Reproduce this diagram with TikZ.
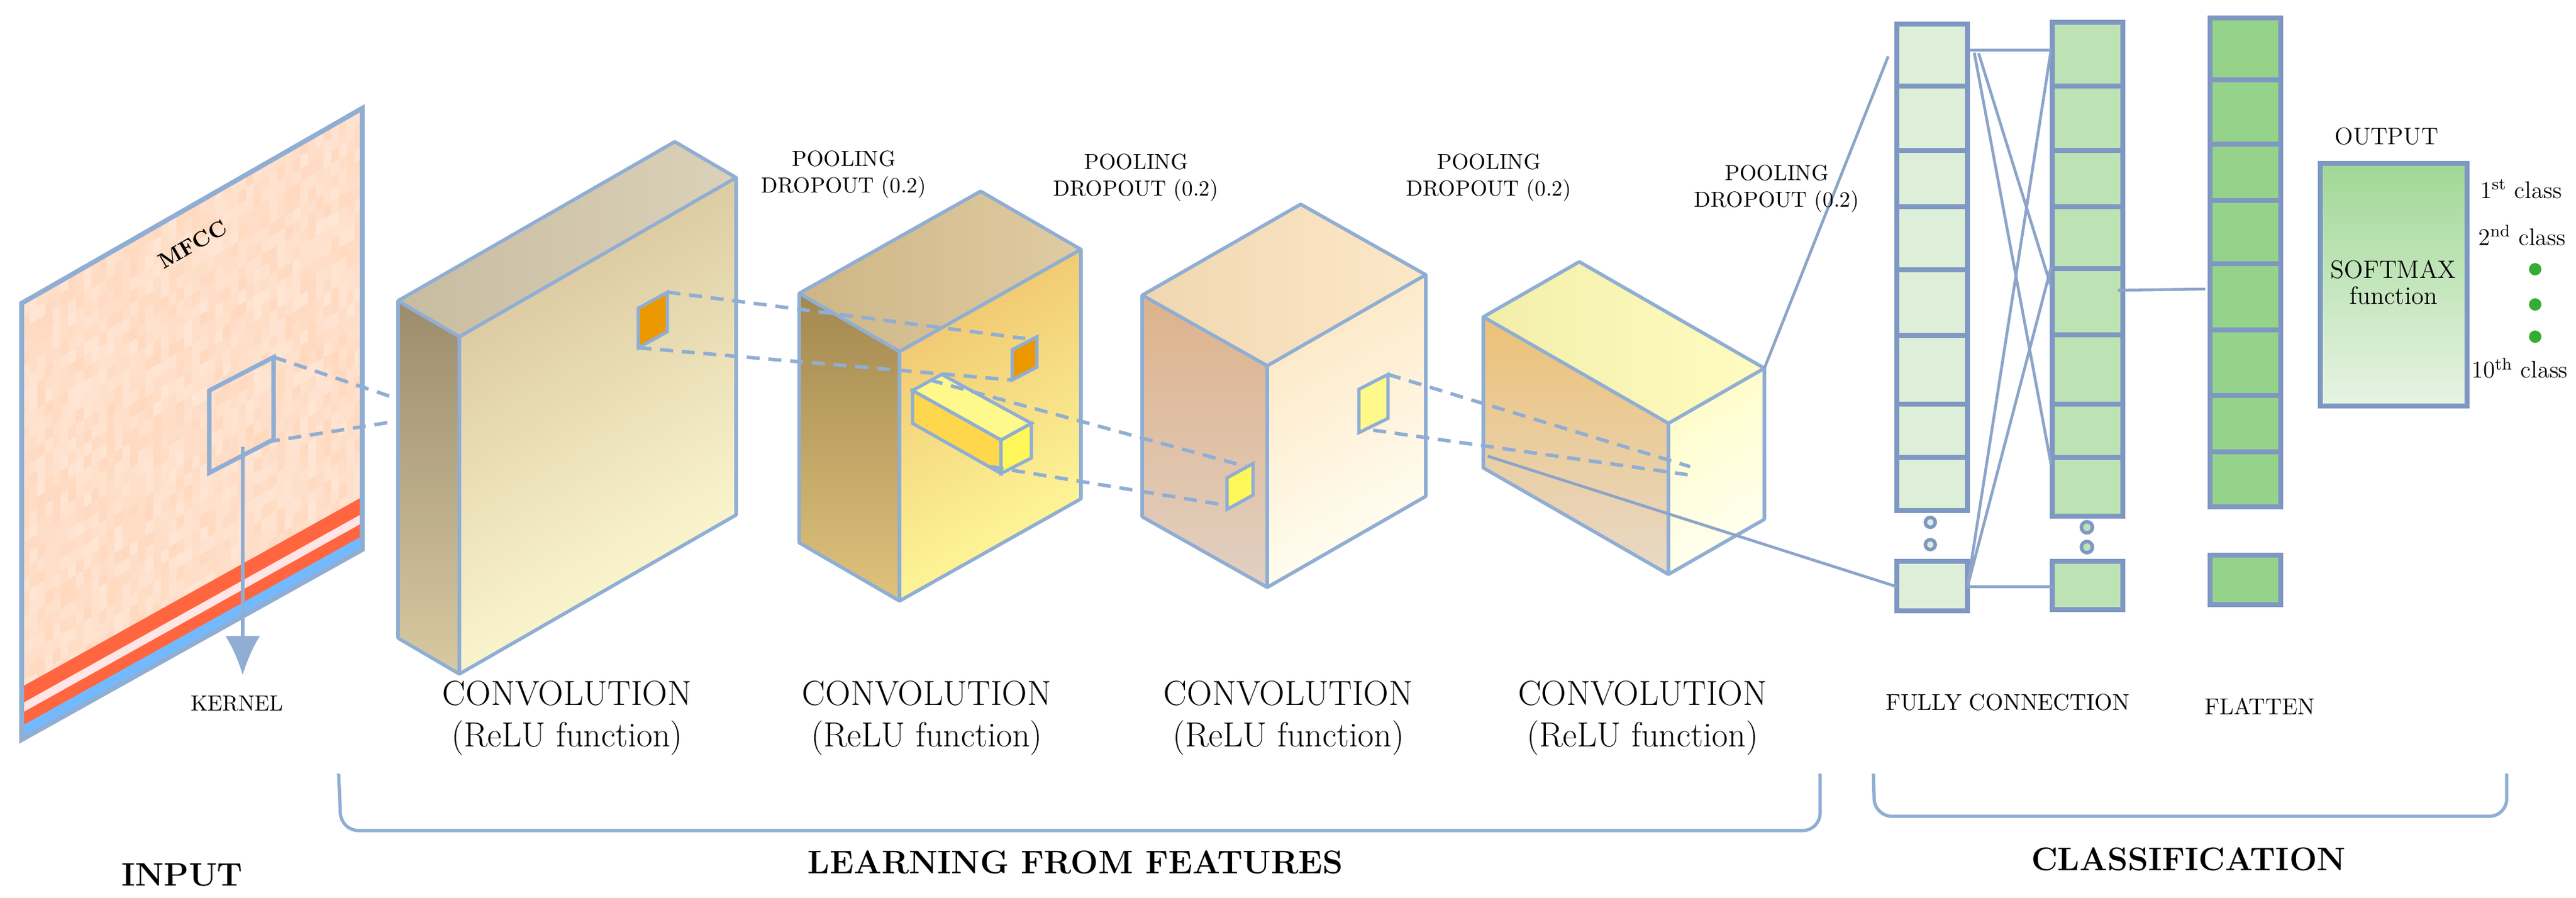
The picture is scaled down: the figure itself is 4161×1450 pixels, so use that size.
\documentclass[tikz,border=0pt]{standalone}
\usetikzlibrary{calc,arrows.meta}
\begin{document}
\begin{tikzpicture}[x=0.01cm,y=-0.01cm,
  ln/.style={draw=lc,line width=1.3pt},
  dsh/.style={draw=ec,line width=1.6pt,dash pattern=on 6pt off 4pt},
  fc1/.style={draw=fe,line width=2.4pt,fill=g1},
  fc2/.style={draw=fe,line width=2.4pt,fill=g2},
  fc3/.style={draw=fe,line width=2.4pt,fill=g3},
  lbl/.style={font=\fontsize{10}{12}\selectfont,align=center},
  big/.style={font=\fontsize{16}{19}\selectfont,align=center},
  bold/.style={font=\fontsize{15}{18}\selectfont\bfseries}]
\definecolor{ec}{HTML}{90AED3}
\definecolor{lc}{HTML}{8CA4C8}
\definecolor{fe}{HTML}{7F98C3}
\definecolor{g1}{HTML}{DDEFD8}\definecolor{g2}{HTML}{BDE2B3}\definecolor{g3}{HTML}{96D38A}
\definecolor{aL1}{HTML}{9C8C6C}\definecolor{aL2}{HTML}{D8C9A2}\definecolor{aT}{HTML}{D2C6A8}\definecolor{aF1}{HTML}{D8C49A}\definecolor{aF2}{HTML}{FFFCD6}
\definecolor{bL1}{HTML}{A38850}\definecolor{bL2}{HTML}{DEC27C}\definecolor{bT}{HTML}{D8BF8C}\definecolor{bF1}{HTML}{EFC46E}\definecolor{bF2}{HTML}{FFFB9C}
\definecolor{cL1}{HTML}{DDB28C}\definecolor{cL2}{HTML}{E2D0C2}\definecolor{cT}{HTML}{FCE2BA}\definecolor{cF1}{HTML}{FDE7C4}\definecolor{cF2}{HTML}{FFFFF4}
\definecolor{dL1}{HTML}{ECC177}\definecolor{dL2}{HTML}{E8D9C8}\definecolor{dT}{HTML}{FFFBB2}\definecolor{dF1}{HTML}{FFFDC8}\definecolor{dF2}{HTML}{FFFFF2}
\useasboundingbox (0,0) rectangle (4161,1450);
\newcommand\blk[8]{%
 \coordinate (#8A) at (#1,#2);
 \coordinate (#8B) at ($(#8A)+(#3,#4)$);
 \coordinate (#8P) at ($(#8A)+(#5,#6)$);
 \coordinate (#8C) at ($(#8B)+(#5,#6)$);
 \coordinate (#8Ab) at ($(#8A)+(0,#7)$);
 \coordinate (#8Bb) at ($(#8B)+(0,#7)$);
 \coordinate (#8Cb) at ($(#8C)+(0,#7)$);
 \shade[top color=#8L1,bottom color=#8L2] (#8A)--(#8B)--(#8Bb)--(#8Ab)--cycle;
 \shade[left color=#8T!95!black,right color=#8T!80!white] (#8A)--(#8P)--(#8C)--(#8B)--cycle;
 \shade[top color=#8F1,bottom color=#8F2,shading angle=30] (#8B)--(#8C)--(#8Cb)--(#8Bb)--cycle;
 \draw[ec,line width=1.6pt,line join=round] (#8A)--(#8P)--(#8C)--(#8B)--cycle (#8A)--(#8Ab)--(#8Bb)--(#8Cb)--(#8C) (#8B)--(#8Bb);
}
% ---------- MFCC input ----------
\coordinate (mTL) at (35,490); \coordinate (mTR) at (585,175);
\coordinate (mBR) at (585,888); \coordinate (mBL) at (35,1195);
\fill[red!20!orange!25!white] (mTL)--(mTR)--(mBR)--(mBL)--cycle;
\begin{scope}
\clip (mTL)--(mTR)--(mBR)--(mBL)--cycle;
\pgfmathsetseed{7}
\foreach \i in {0,...,43}{\foreach \j in {0,...,34}{
  \pgfmathsetmacro\op{rnd*0.35}
  \pgfmathsetmacro\xa{35+\i*12.5}\pgfmathsetmacro\ya{490-\i*7.16+\j*20.4}
  \fill[white,opacity=\op] (\xa,\ya)--++(12.5,-7.16)--++(0,20.4)--++(-12.5,7.16)--cycle;}}
\fill[red!60!orange!75!white] (35,1110)--(585,803)--(585,888)--(35,1195)--cycle;
\fill[red!10!white] (35,1137)--(585,830)--(585,845)--(35,1152)--cycle;
\fill[blue!50!cyan!55!white] (35,1173)--(585,866)--(585,888)--(35,1195)--cycle;
\end{scope}
\draw[ec,line width=2.2pt] (mTL)--(mTR)--(mBR)--(mBL)--cycle;
\node[rotate=29.8,font=\fontsize{10}{12}\selectfont\bfseries,inner sep=0pt] (mfcc) at (311,395) {MFCC};
\coordinate (k1) at (338,631); \coordinate (k2) at (442,577);
\coordinate (k3) at (442,710); \coordinate (k4) at (338,764);
\draw[ec,line width=2pt] (k1)--(k2)--(k3)--(k4)--cycle;
\coordinate (kar) at (392,722); \coordinate (kend) at (392,1091);
\draw[ec,line width=1.5pt,-{Latex[length=18pt,width=16pt]}] (kar)--(kend);
\node[lbl] (kernel) at (383,1137) {KERNEL};
% ---------- blocks ----------
\blk{643}{486}{99}{58}{447}{-257}{545}{a}
\blk{1291}{474}{162}{94}{293}{-165}{403}{b}
\blk{1845}{477}{202}{114}{256}{-147}{358}{c}
\blk{2396}{512}{299}{172}{155}{-89}{244}{d}
% patches
\coordinate (p1a) at (1031,498); \coordinate (p1b) at (1078,472); \coordinate (p1c) at (1078,536); \coordinate (p1d) at (1031,562);
\filldraw[fill=orange!70!yellow!92!black,draw=ec,line width=1.5pt] (p1a)--(p1b)--(p1c)--(p1d)--cycle;
\coordinate (p2a) at (1635,565); \coordinate (p2b) at (1675,544); \coordinate (p2c) at (1675,593); \coordinate (p2d) at (1635,614);
\filldraw[fill=orange!70!yellow!92!black,draw=ec,line width=1.5pt] (p2a)--(p2b)--(p2c)--(p2d)--cycle;
% small box in block 2
\filldraw[fill=yellow!45!white,draw=ec,line width=1.5pt] (1474,631)--(1521,605)--(1666,684)--(1617,711)--cycle;
\filldraw[fill=orange!45!yellow!70!white,draw=ec,line width=1.5pt] (1474,631)--(1617,711)--(1617,765)--(1474,684)--cycle;
\filldraw[fill=yellow!65!white,draw=ec,line width=1.5pt] (1617,711)--(1666,684)--(1666,740)--(1617,765)--cycle;
\coordinate (p3a) at (1982,772); \coordinate (p3b) at (2024,749); \coordinate (p3c) at (2024,800); \coordinate (p3d) at (1982,823);
\filldraw[fill=yellow!65!white,draw=ec,line width=1.5pt] (p3a)--(p3b)--(p3c)--(p3d)--cycle;
\coordinate (p4a) at (2195,629); \coordinate (p4b) at (2242,605); \coordinate (p4c) at (2242,676); \coordinate (p4d) at (2195,699);
\filldraw[fill=yellow!45!white,draw=ec,line width=1.5pt] (p4a)--(p4b)--(p4c)--(p4d)--cycle;
% dashed connectors
\coordinate (a1) at (638,643); \coordinate (a2) at (638,681); \coordinate (kb) at (431,714);
\draw[dsh] (k2)--(a1) (kb)--(a2);
\coordinate (q2a) at (1656,547);
\draw[dsh] (p1b)--(q2a) (p1d)--(p2d);
\coordinate (bx1) at (1502,614); \coordinate (bx2) at (1600,754);
\coordinate (q3a) at (2014,754); \coordinate (q3b) at (1984,817);
\draw[dsh] (bx1)--(q3a) (bx2)--(q3b);
\coordinate (q4a) at (2730,754); \coordinate (q4b) at (2726,767); \coordinate (p4e) at (2218,695);
\draw[dsh] (p4b)--(q4a) (p4e)--(q4b);
% ---------- fully connected ----------
\foreach \t/\b in {39/139,139/243,243/334,334/436,436/542,542/653,653/739,739/825}{
  \draw[fc1] (3064,\t) rectangle (3178,\b);}
\draw[fc1] (3064,907) rectangle (3178,987);
\foreach \y in {844,880}{\draw[fc1,line width=1.6pt] (3118,\y) circle (8);}
\foreach \t/\b in {36/139,139/243,243/334,334/434,434/541,541/653,653/739,739/834}{
  \draw[fc2] (3315,\t) rectangle (3429,\b);}
\draw[fc2] (3315,907) rectangle (3429,985);
\foreach \y in {852,884}{\draw[fc2,line width=1.6pt] (3371,\y) circle (9);}
\foreach \t/\b in {29/129,129/233,233/324,324/426,426/533,533/639,639/730,730/819}{
  \draw[fc3] (3570,\t) rectangle (3684,\b);}
\draw[fc3] (3570,897) rectangle (3684,977);
% connectors
\coordinate (f1t) at (3182,81); \coordinate (f1t2) at (3189,85); \coordinate (f1t3) at (3196,86);
\coordinate (f2t) at (3313,81); \coordinate (f2m) at (3313,463); \coordinate (f2l) at (3313,750);
\coordinate (f1b) at (3178,948); \coordinate (f2b) at (3315,948); \coordinate (f2ml) at (3313,432);
\draw[ln] (f1t)--(f2t) (f1t2)--(f2l) (f1t3)--(f2m) (f1b)--(f2t) (f1b)--(f2ml) (f1b)--(f2b);
\coordinate (f2r) at (3421,469); \coordinate (fl) at (3562,467);
\draw[ln] (f2r)--(fl);
\coordinate (d1) at (2403,737); \coordinate (f1bl) at (3064,948);
\coordinate (f1tl) at (3050,91);
\draw[ln] (d1)--(f1bl) (dC)--(f1tl);
% output
\shade[top color=g3!90!white,bottom color=g1!70!white] (3748,264) rectangle (3985,656);
\draw[fe,line width=2.2pt] (3748,264) rectangle (3985,656);
\node[lbl,font=\fontsize{11.5}{14}\selectfont] (sm) at (3866,456) {SOFTMAX\\[-2pt]function};
\node[lbl,font=\fontsize{11}{13}\selectfont] (out) at (3855,220) {OUTPUT};
\node[lbl,font=\fontsize{11}{13}\selectfont] (c1) at (4072,305) {1\textsuperscript{st} class};
\node[lbl,font=\fontsize{11}{13}\selectfont] (c2) at (4074,380) {2\textsuperscript{nd} class};
\node[lbl,font=\fontsize{11}{13}\selectfont] (c10) at (4070,595) {10\textsuperscript{th} class};
\foreach \y in {435,492,544}{\fill[green!60!black!80!white] (4095,\y) circle (10);}
% labels
\node[lbl] (pd1) at (1363,282) {POOLING\\DROPOUT (0.2)};
\node[lbl] (pd2) at (1835,287) {POOLING\\DROPOUT (0.2)};
\node[lbl] (pd3) at (2405,287) {POOLING\\DROPOUT (0.2)};
\node[lbl] (pd4) at (2870,305) {POOLING\\DROPOUT (0.2)};
\foreach \x/\nm in {916/cv1,1497/cv2,2081/cv3,2653/cv4}{
  \node[big] (\nm) at (\x,1160) {CONVOLUTION\\(ReLU function)};}
\node[lbl,font=\fontsize{10.5}{12}\selectfont] (fcl) at (3243,1135) {FULLY CONNECTION};
\node[lbl,font=\fontsize{10.5}{12}\selectfont] (flt) at (3650,1141) {FLATTEN};
% brackets
\draw[ec,line width=1.5pt,rounded corners=8pt] (547,1250)--(551,1342)--(2940,1342)--(2940,1250);
\draw[ec,line width=1.5pt,rounded corners=8pt] (3026,1250)--(3028,1319)--(4049,1319)--(4049,1250);
\node[bold] (inp) at (294,1414) {INPUT};
\node[bold] (lff) at (1737,1393) {LEARNING FROM FEATURES};
\node[bold] (cls) at (3535,1388) {CLASSIFICATION};
\end{tikzpicture}
\end{document}
